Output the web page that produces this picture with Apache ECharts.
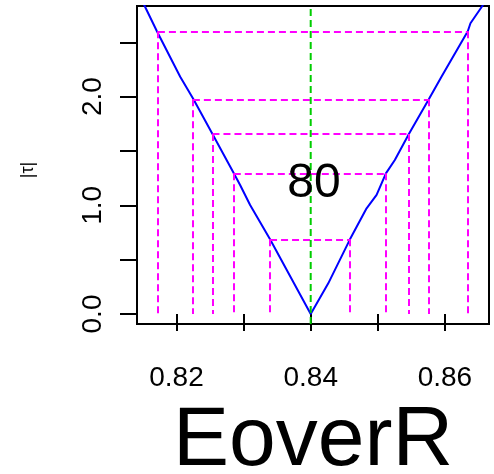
<!DOCTYPE html>
<html>
<head>
<meta charset="utf-8">
<script src="https://cdn.jsdelivr.net/npm/echarts@6/dist/echarts.min.js"></script>
<style>
  html, body { margin: 0; padding: 0; background: #fff; }
  #chart { width: 494px; height: 474px; }
</style>
</head>
<body>
<div id="chart"></div>
<script>
// |tau| profile against EoverR, with the cut levels and their crossing points
const curveX = [0.8145, 0.81524, 0.81708, 0.82055, 0.82253, 0.82536, 0.82854, 0.82948, 0.83097, 0.83394, 0.84,
                0.84262, 0.84585, 0.84833, 0.84982, 0.85121, 0.85254, 0.85463, 0.8576, 0.85949, 0.86341, 0.86381, 0.8656, 0.8663];
const curveY = [2.93, 2.836, 2.601, 2.183, 1.975, 1.656, 1.294, 1.187, 1.003, 0.687, 0.0,
                0.282, 0.687, 0.972, 1.095, 1.294, 1.417, 1.656, 1.975, 2.183, 2.601, 2.675, 2.836, 2.93];

const levels = [0.687, 1.294, 1.656, 1.975, 2.601];
const lowerCross = [0.83394, 0.82854, 0.82536, 0.82244, 0.81723];
const upperCross = [0.84585, 0.85121, 0.85463, 0.8576, 0.86341];

const estimate = 0.84;
const centerLabel = '80';
const centerLabelAt = [0.8405, 1.196];

const xTicks = [0.82, 0.83, 0.84, 0.85, 0.86];
const xTickLabels = [0.82, 0.84, 0.86];
const yTicks = [0, 0.5, 1, 1.5, 2, 2.5];
const yTickLabels = [0, 1, 2];

const xRange = [0.814113, 0.866572];
const yRange = [-0.092, 2.8335];

const FONT = 'Liberation Sans, Arial, sans-serif';

const curve = curveX.map((x, i) => [x, curveY[i]]);

// horizontal dashed segments between the two crossings of each level,
// plus vertical drops from every crossing to zero
const segs = [];
levels.forEach((lv, i) => {
  segs.push({ coords: [[lowerCross[i], lv], [upperCross[i], lv]] });
  segs.push({ coords: [[lowerCross[i], lv], [lowerCross[i], 0]] });
  segs.push({ coords: [[upperCross[i], lv], [upperCross[i], 0]] });
});

const chart = echarts.init(document.getElementById('chart'), null, { renderer: 'canvas' });

chart.setOption({
  animation: false,
  backgroundColor: '#fff',
  grid: {
    left: 137, top: 6, right: 5, bottom: 150,
    outerBoundsMode: 'none',
    containLabel: false,
    show: true, borderColor: '#000', borderWidth: 2, backgroundColor: 'transparent'
  },
  xAxis: {
    type: 'value',
    min: xRange[0], max: xRange[1],
    splitLine: { show: false },
    axisLine: { show: false },
    axisTick: {
      show: true, inside: false, length: 17, customValues: xTicks,
      lineStyle: { color: '#000', width: 2 }
    },
    axisLabel: {
      show: true, customValues: xTickLabels, margin: 40,
      fontFamily: FONT, fontSize: 28, color: '#000',
      formatter: v => v.toFixed(2)
    },
    name: 'EoverR',
    nameLocation: 'middle',
    nameGap: 76,
    nameTextStyle: { fontFamily: FONT, fontSize: 84, color: '#000' }
  },
  yAxis: {
    type: 'value',
    min: yRange[0], max: yRange[1],
    splitLine: { show: false },
    axisLine: { show: false },
    axisTick: {
      show: true, inside: false, length: 17, customValues: yTicks,
      lineStyle: { color: '#000', width: 2 }
    },
    axisLabel: {
      show: true, customValues: yTickLabels, rotate: 90, margin: 30,
      fontFamily: FONT, fontSize: 28, color: '#000',
      formatter: v => v.toFixed(1)
    },
    name: '|τ|',
    nameLocation: 'middle',
    nameRotate: 90,
    nameGap: 100,
    nameTextStyle: { fontFamily: FONT, fontSize: 18, color: '#000', padding: [0, 10, 0, 0] }
  },
  series: [
    {
      type: 'line',
      data: curve,
      showSymbol: false,
      clip: true,
      lineStyle: { color: '#0000ff', width: 2 },
      z: 2
    },
    {
      type: 'lines',
      coordinateSystem: 'cartesian2d',
      data: segs,
      lineStyle: { color: '#ff00ff', width: 2, opacity: 1, type: [7, 4] },
      z: 3
    },
    {
      type: 'line',
      data: [[estimate, yRange[0]], [estimate, yRange[1]]],
      showSymbol: false,
      lineStyle: { color: '#00cd00', width: 2, type: [7, 4] },
      z: 4
    },
    {
      type: 'scatter',
      data: [centerLabelAt],
      symbolSize: 0,
      itemStyle: { opacity: 1 },
      label: {
        show: true, position: 'inside', formatter: centerLabel,
        fontFamily: FONT, fontSize: 48, color: '#000', opacity: 1,
        textBorderWidth: 0
      },
      z: 5
    }
  ]
});
</script>
</body>
</html>
